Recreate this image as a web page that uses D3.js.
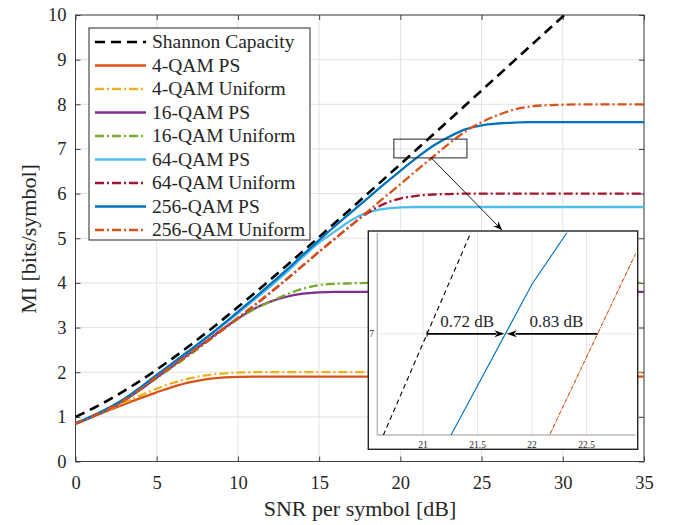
<!DOCTYPE html>
<html>
<head>
<meta charset="utf-8">
<script src="https://cdn.jsdelivr.net/npm/d3@7"></script>
<style>
  body { margin: 0; background: #fff; }
  text { font-family: "Liberation Serif", "Times New Roman", serif; fill: #262626; }
</style>
</head>
<body>
<svg width="683" height="525"></svg>
<script>
// SNR grid [dB]
var snr = [0,1,2,3,4,5,6,7,8,9,10,11,
           12,13,14,15,16,17,18,19,20,21,22,23,
           24,25,26,27,28,29,30,31,32,33,34,35];

var shannon = [1.000,1.176,1.370,1.583,1.812,2.057,2.316,2.588,2.870,3.161,3.459,3.764,
               4.075,4.389,4.707,5.028,5.351,5.676,6.002,6.330,6.658,6.988,7.317,7.647,
               7.978,8.309,8.640,8.972,9.304,9.635,9.967,10.299];
var qam4PS = [0.84,0.99,1.14,1.28,1.42,1.55,1.67,1.77,1.84,1.88,1.895,1.90,
              1.90,1.90,1.90,1.90,1.90,1.90,1.90,1.90,1.90,1.90,1.90,1.90,
              1.90,1.90,1.90,1.90,1.90,1.90,1.90,1.90,1.90,1.90,1.90,1.90];
var qam4U = [0.85,1.00,1.16,1.32,1.48,1.63,1.76,1.86,1.93,1.97,1.99,2.00,
             2.00,2.00,2.00,2.00,2.00,2.00,2.00,2.00,2.00,2.00,2.00,2.00,
             2.00,2.00,2.00,2.00,2.00,2.00,2.00,2.00,2.00,2.00,2.00,2.00];
var qam16PS = [0.85,1.00,1.17,1.37,1.61,1.88,2.14,2.41,2.68,2.95,3.20,3.42,
               3.58,3.69,3.76,3.79,3.80,3.80,3.80,3.80,3.80,3.80,3.80,3.80,
               3.80,3.80,3.80,3.80,3.80,3.80,3.80,3.80,3.80,3.80,3.80,3.80];
var qam16U = [0.85,1.00,1.17,1.37,1.61,1.87,2.12,2.38,2.65,2.93,3.19,3.41,
              3.58,3.74,3.87,3.95,3.98,3.99,4.00,4.00,4.00,4.00,4.00,4.00,
              4.00,4.00,4.00,4.00,4.00,4.00,4.00,4.00,4.00,4.00,4.00,4.00];
var qam64PS = [0.86,1.01,1.19,1.40,1.65,1.93,2.20,2.47,2.75,3.03,3.32,3.62,
               3.92,4.24,4.58,4.90,5.16,5.41,5.58,5.66,5.69,5.70,5.70,5.70,
               5.70,5.70,5.70,5.70,5.70,5.70,5.70,5.70,5.70,5.70,5.70,5.70];
var qam64U = [0.85,1.00,1.17,1.37,1.62,1.89,2.15,2.41,2.67,2.94,3.21,3.49,
              3.78,4.08,4.39,4.70,5.00,5.30,5.57,5.77,5.89,5.95,5.98,5.99,
              6.00,6.00,6.00,6.00,6.00,6.00,6.00,6.00,6.00,6.00,6.00,6.00];
var qam256PS = [0.86,1.01,1.19,1.40,1.66,1.94,2.21,2.48,2.76,3.05,3.35,3.66,
                3.97,4.29,4.63,4.96,5.28,5.59,5.90,6.21,6.51,6.80,7.065,7.275,
                7.44,7.53,7.57,7.59,7.60,7.60,7.60,7.60,7.60,7.60,7.60,7.60];
var qam256U = [0.85,1.00,1.17,1.37,1.62,1.90,2.15,2.41,2.67,2.94,3.22,3.50,
               3.79,4.09,4.39,4.70,5.00,5.30,5.60,5.91,6.21,6.52,6.82,7.12,
               7.39,7.60,7.76,7.88,7.95,7.98,7.99,8.00,8.00,8.00,8.00,8.00];

var names = ['Shannon Capacity','4-QAM PS','4-QAM Uniform','16-QAM PS','16-QAM Uniform',
             '64-QAM PS','64-QAM Uniform','256-QAM PS','256-QAM Uniform'];
var allValues = [shannon, qam4PS, qam4U, qam16PS, qam16U, qam64PS, qam64U, qam256PS, qam256U];

var xTicks = [0,5,10,15,20,25,30,35];
var yTicks = [0,1,2,3,4,5,6,7,8,9,10];

// zoom window / inset
var zoomBox = [19.6, 24.1, 6.8, 7.22];        // x0, x1, y0, y1
var pointer = [[21.9, 6.8], [26.27, 5.18]];
var insetX = [20.58, 22.95], insetY = [6.868, 7.132];
var insetXTicks = [21, 21.5, 22, 22.5], insetYTicks = [7];
var gapLevel = 7;
var gapLabels = ['0.72 dB', '0.83 dB'];

// styles
var colors = ['#000000','#D95319','#EDB120','#7E2F8E','#77AC30','#4DBEEE','#A2142F','#0072BD','#D95319'];
var dashes = ['10,6',null,'9,3,2,3',null,'9,3,2,3',null,'9,3,2,3',null,'9,3,2,3'];
var widths = [2.6,2.3,2.3,2.3,2.3,2.3,2.3,2.3,2.3];

var svg = d3.select('svg');
var x = d3.scaleLinear().domain([0, 35]).range([75.5, 644]);
var y = d3.scaleLinear().domain([0, 10]).range([461.5, 15]);

function toPts(vals) { return vals.map(function(v, i) { return [snr[i], v]; }); }

svg.append('defs').append('clipPath').attr('id', 'plotclip')
   .append('rect').attr('x', 75.5).attr('y', 15).attr('width', 644 - 75.5).attr('height', 461.5 - 15);

// grid
var grid = svg.append('g').attr('stroke', '#e2e2e2').attr('stroke-width', 1);
xTicks.forEach(function(t) {
  grid.append('line').attr('x1', x(t)).attr('x2', x(t)).attr('y1', 15).attr('y2', 461.5);
});
yTicks.forEach(function(t) {
  grid.append('line').attr('y1', y(t)).attr('y2', y(t)).attr('x1', 75.5).attr('x2', 644);
});

// axes with inward ticks
function styleAxis(g) {
  g.select('.domain').remove();
  g.selectAll('.tick line').attr('stroke', '#404040');
  g.selectAll('.tick text').style('font-size', '18.5px').attr('fill', '#262626');
}
svg.append('g').attr('transform', 'translate(0,461.5)')
   .call(d3.axisBottom(x).tickValues(xTicks).tickSize(-5).tickPadding(14).tickFormat(d3.format('d')))
   .call(styleAxis);
svg.append('g').attr('transform', 'translate(75.5,0)')
   .call(d3.axisLeft(y).tickValues(yTicks).tickSize(-5).tickPadding(9).tickFormat(d3.format('d')))
   .call(styleAxis);
svg.append('g').attr('transform', 'translate(0,15)')
   .call(d3.axisTop(x).tickValues(xTicks).tickSize(-5).tickFormat(''))
   .call(styleAxis);
svg.append('g').attr('transform', 'translate(644,0)')
   .call(d3.axisRight(y).tickValues(yTicks).tickSize(-5).tickFormat(''))
   .call(styleAxis);

svg.append('rect').attr('x', 75.5).attr('y', 15).attr('width', 644 - 75.5).attr('height', 461.5 - 15)
   .attr('fill', 'none').attr('stroke', '#404040').attr('stroke-width', 1);

// curves
var line = d3.line().curve(d3.curveMonotoneX)
   .x(function(d) { return x(d[0]); }).y(function(d) { return y(d[1]); });
var curves = svg.append('g').attr('clip-path', 'url(#plotclip)');
allValues.forEach(function(vals, i) {
  curves.append('path').datum(toPts(vals))
    .attr('d', line).attr('fill', 'none')
    .attr('stroke', colors[i]).attr('stroke-width', widths[i])
    .attr('stroke-dasharray', dashes[i]);
});

// labels
svg.append('text').attr('x', 360).attr('y', 516).attr('text-anchor', 'middle')
   .style('font-size', '22px').text('SNR per symbol [dB]');
svg.append('text').attr('transform', 'translate(36,239) rotate(-90)').attr('text-anchor', 'middle')
   .style('font-size', '22px').text('MI [bits/symbol]');

// legend
var lg = svg.append('g');
lg.append('rect').attr('x', 89).attr('y', 28).attr('width', 221).attr('height', 212)
  .attr('fill', '#fff').attr('stroke', '#262626').attr('stroke-width', 1);
names.forEach(function(n, i) {
  var yy = 42 + i * 23.5;
  lg.append('line').attr('x1', 95).attr('x2', 146).attr('y1', yy).attr('y2', yy)
    .attr('stroke', colors[i]).attr('stroke-width', widths[i]).attr('stroke-dasharray', dashes[i]);
  lg.append('text').attr('x', 152).attr('y', yy).attr('dy', '0.33em')
    .style('font-size', '19.5px').text(n);
});

// zoom rectangle and pointer
svg.append('rect').attr('x', x(zoomBox[0])).attr('y', y(zoomBox[3]))
   .attr('width', x(zoomBox[1]) - x(zoomBox[0])).attr('height', y(zoomBox[2]) - y(zoomBox[3]))
   .attr('fill', 'none').attr('stroke', '#222').attr('stroke-width', 1);

function arrowHead(g, x1, y1, x2, y2, len, half) {
  var a = Math.atan2(y2 - y1, x2 - x1);
  var bx = x2 - len * Math.cos(a), by = y2 - len * Math.sin(a);
  var nx = -Math.sin(a), ny = Math.cos(a);
  var mx = x2 - len * 0.7 * Math.cos(a), my = y2 - len * 0.7 * Math.sin(a);
  g.append('path')
   .attr('d', 'M' + x2 + ',' + y2 + 'L' + (bx + nx * half) + ',' + (by + ny * half) +
              'L' + mx + ',' + my + 'L' + (bx - nx * half) + ',' + (by - ny * half) + 'Z')
   .attr('fill', '#000');
}
var px1 = x(pointer[0][0]), py1 = y(pointer[0][1]), px2 = x(pointer[1][0]), py2 = y(pointer[1][1]);
svg.append('line').attr('x1', px1).attr('y1', py1).attr('x2', px2).attr('y2', py2)
   .attr('stroke', '#000').attr('stroke-width', 0.9);
arrowHead(svg, px1, py1, px2, py2, 9, 3.5);

// inset
var ix = d3.scaleLinear().domain(insetX).range([377.3, 635.7]);
var iy = d3.scaleLinear().domain(insetY).range([435, 232.7]);
var ins = svg.append('g');
ins.append('rect').attr('x', 368.3).attr('y', 231).attr('width', 637.7 - 368.3).attr('height', 449.3 - 231)
   .attr('fill', '#fff').attr('stroke', '#222').attr('stroke-width', 1.4);
ins.append('defs').append('clipPath').attr('id', 'insclip')
   .append('rect').attr('x', 377.3).attr('y', 232.7).attr('width', 635.7 - 377.3).attr('height', 435 - 232.7);
insetXTicks.forEach(function(t) {
  ins.append('line').attr('x1', ix(t)).attr('x2', ix(t)).attr('y1', 232.7).attr('y2', 435)
     .attr('stroke', '#e4e4e4');
  ins.append('text').attr('x', ix(t)).attr('y', 448).attr('text-anchor', 'middle')
     .style('font-size', '9.5px').attr('fill', '#666').text(t);
});
insetYTicks.forEach(function(t) {
  ins.append('line').attr('x1', 377.3).attr('x2', 635.7).attr('y1', iy(t)).attr('y2', iy(t))
     .attr('stroke', '#e4e4e4');
  ins.append('text').attr('x', 374).attr('y', iy(t)).attr('dy', '0.33em').attr('text-anchor', 'end')
     .style('font-size', '9.5px').attr('fill', '#666').text(t);
});
ins.append('path').attr('d', 'M377.3,232.7V435H635.7').attr('fill', 'none')
   .attr('stroke', '#bbb').attr('stroke-width', 1.5);

var iline = d3.line().x(function(d) { return ix(d[0]); }).y(function(d) { return iy(d[1]); });
var icur = ins.append('g').attr('clip-path', 'url(#insclip)');
[0, 7, 8].forEach(function(k) {
  icur.append('path').datum(toPts(allValues[k])).attr('d', iline).attr('fill', 'none')
      .attr('stroke', colors[k]).attr('stroke-width', 1.1)
      .attr('stroke-dasharray', k === 0 ? '5,3.5' : (k === 8 ? '4,1,1,1' : null));
});

// crossings of the gap level
function crossing(vals) {
  for (var i = 1; i < vals.length; i++) {
    if (vals[i - 1] < gapLevel && vals[i] >= gapLevel) {
      return snr[i - 1] + (gapLevel - vals[i - 1]) / (vals[i] - vals[i - 1]) * (snr[i] - snr[i - 1]);
    }
  }
}
var cS = ix(crossing(shannon)), cP = ix(crossing(qam256PS)), cU = ix(crossing(qam256U));
var gy = iy(gapLevel);
ins.append('line').attr('x1', cS).attr('x2', cP - 9).attr('y1', gy).attr('y2', gy)
   .attr('stroke', '#000').attr('stroke-width', 1.6);
arrowHead(ins, cS, gy, cP - 1, gy, 10, 3.5);
ins.append('line').attr('x1', cS).attr('x2', cS).attr('y1', gy - 3).attr('y2', gy + 3)
   .attr('stroke', '#000').attr('stroke-width', 1);
ins.append('line').attr('x1', cU).attr('x2', cP + 10).attr('y1', gy).attr('y2', gy)
   .attr('stroke', '#000').attr('stroke-width', 1.6);
arrowHead(ins, cU, gy, cP + 1.5, gy, 10, 3.5);
ins.append('text').attr('x', (cS + cP) / 2 + 1).attr('y', gy - 7).attr('text-anchor', 'middle')
   .style('font-size', '17px').text(gapLabels[0]);
ins.append('text').attr('x', (cP + cU) / 2 + 5).attr('y', gy - 7).attr('text-anchor', 'middle')
   .style('font-size', '17px').text(gapLabels[1]);
</script>
</body>
</html>
